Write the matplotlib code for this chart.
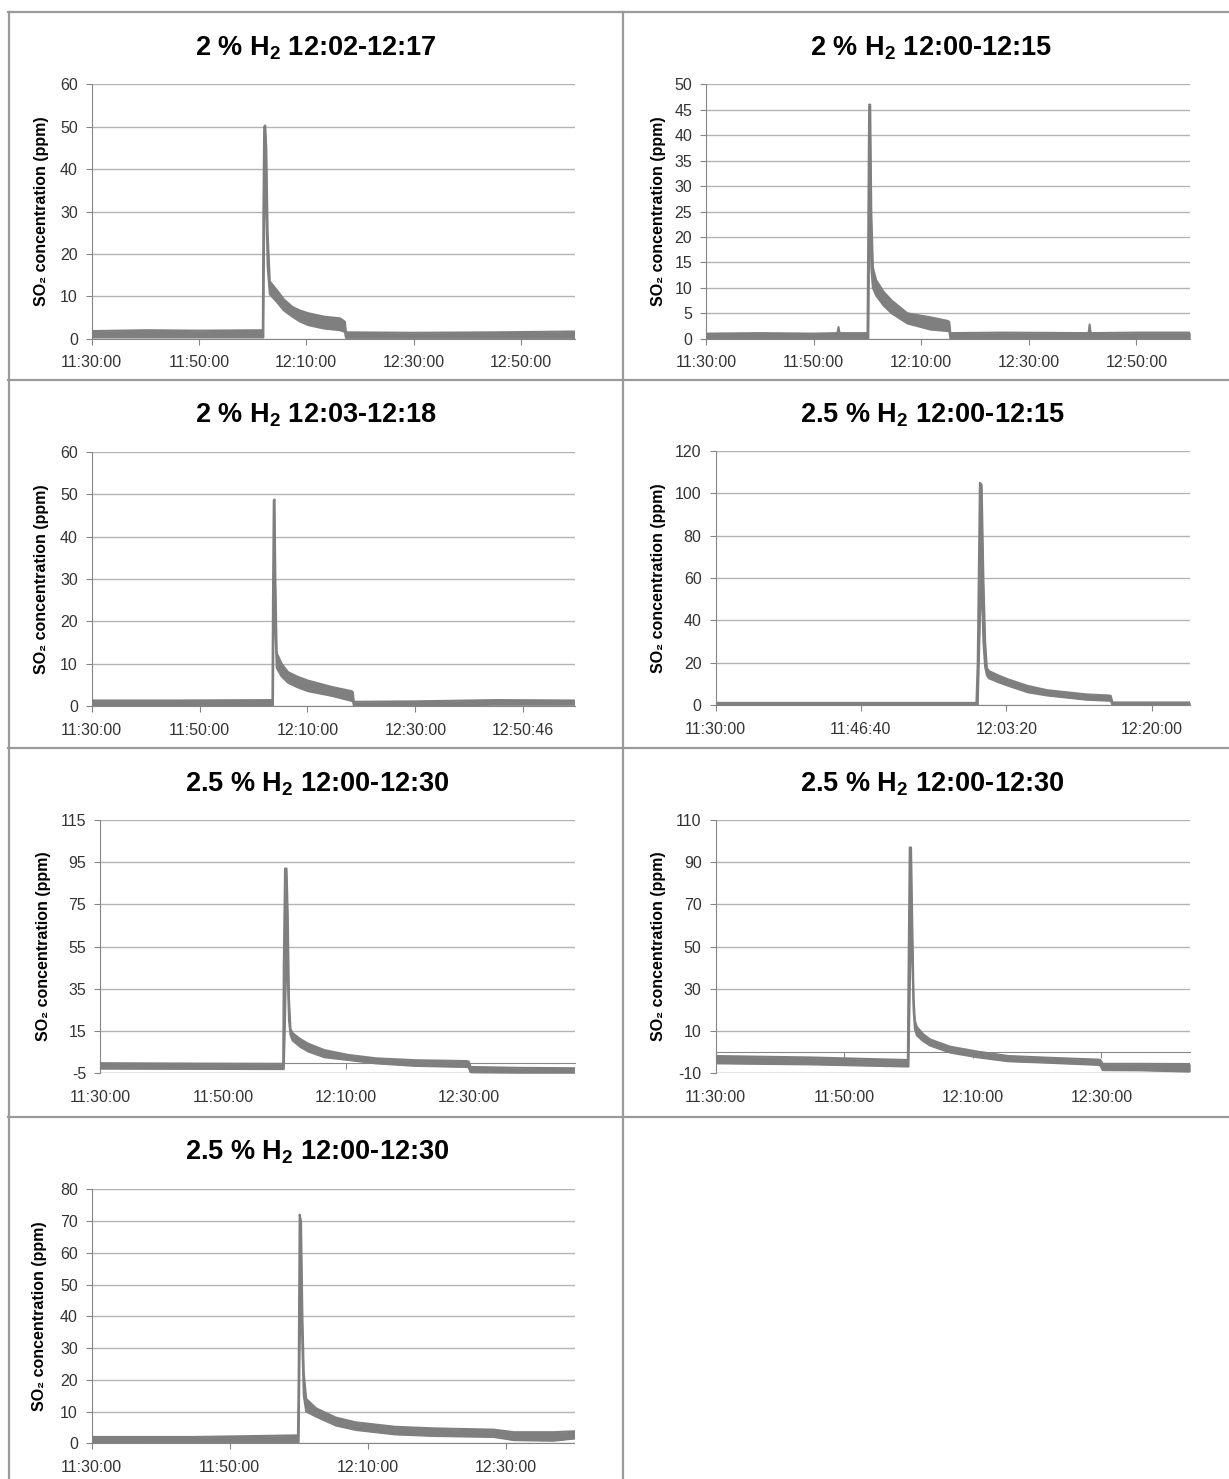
import matplotlib
matplotlib.use('Agg')
import matplotlib.pyplot as plt
from matplotlib.lines import Line2D

plt.rcParams['font.family'] = ['Liberation Sans', 'DejaVu Sans']
plt.rcParams['mathtext.fontset'] = 'custom'
plt.rcParams['mathtext.rm'] = 'Liberation Sans:bold'
plt.rcParams['mathtext.bf'] = 'Liberation Sans:bold'
plt.rcParams['axes.unicode_minus'] = False

# time in minutes after 11:30:00, lower / upper edge of the noisy SO2 trace (ppm)
t1 = [0, 10, 20, 31.9, 32.0, 32.15, 32.35, 32.55, 32.8, 33.2, 34.5, 35.8, 37.4, 38.9, 40.4, 43.3, 46.3, 47.2, 47.4, 60, 75, 90]
lo1 = [0.3, 0.3, 0.3, 0.3, 0.3, 28, 45, 30, 17, 10.5, 8.7, 6.7, 5.2, 4.0, 3.2, 2.4, 2.0, 1.6, 0.2, 0.2, 0.2, 0.2]
hi1 = [1.8, 2.0, 1.9, 2.0, 29, 50, 50.3, 45, 25, 13.5, 11.5, 9.3, 7.5, 6.6, 6.0, 5.2, 4.8, 4.0, 1.5, 1.4, 1.5, 1.7]

t2 = [0, 10, 20, 24.4, 24.6, 24.8, 30.0, 30.15, 30.3, 30.5, 30.7, 31.0, 31.6, 33.0, 34.5, 37.4, 41.7, 44.9, 45.2, 45.4, 55, 71.1, 71.3, 71.5, 80, 90]
lo2 = [0.1, 0.1, 0.1, 0.1, 0.1, 0.1, 0.1, 0.1, 20, 28, 14, 10, 8.5, 6.5, 5.0, 3.0, 1.8, 1.5, 1.5, 0.1, 0.1, 0.1, 0.1, 0.1, 0.1, 0.1]
hi2 = [1.0, 1.1, 1.0, 1.1, 2.3, 1.1, 1.1, 24, 46, 46, 25, 14, 11.5, 9.2, 7.5, 5.0, 4.2, 3.5, 3.3, 1.1, 1.2, 1.1, 2.8, 1.1, 1.2, 1.2]

t3 = [0, 15, 33.5, 33.6, 33.75, 33.9, 34.05, 34.3, 35.2, 36.4, 38.2, 40.1, 44.5, 48.2, 48.4, 48.6, 60, 75, 89.5]
lo3 = [0.2, 0.2, 0.2, 0.2, 30, 40, 18, 9.0, 7.0, 5.5, 4.4, 3.5, 2.4, 1.2, 1.2, 0.1, 0.1, 0.3, 0.3]
hi3 = [1.3, 1.3, 1.4, 25, 48.5, 48.8, 30, 12.5, 10.0, 8.0, 6.9, 6.0, 4.5, 3.5, 3.3, 1.0, 1.1, 1.4, 1.3]

t4 = [0, 15, 29.9, 30.05, 30.3, 30.5, 30.7, 30.9, 31.1, 31.35, 32.4, 33.6, 35.8, 38.0, 42.5, 45.1, 45.3, 45.5, 50, 54.4]
lo4 = [0.0, 0.0, 0.0, 0.0, 40, 60, 30, 18, 14, 12.6, 10.8, 9.0, 6.0, 4.5, 2.5, 2.0, 2.0, 0.0, 0.0, 0.0]
hi4 = [1.0, 1.0, 1.0, 20, 105, 104, 60, 30, 17.5, 16, 14, 12, 9.0, 7.0, 5.0, 4.5, 4.3, 1.2, 1.2, 1.2]

t5 = [0, 15, 29.8, 29.9, 30.1, 30.35, 30.55, 30.75, 31.0, 31.35, 32.6, 33.9, 36.5, 40.4, 44.9, 51.3, 59.7, 60.0, 60.3, 68, 77.2]
lo5 = [-2.8, -2.9, -3.0, -3.0, 20, 60, 40, 20, 13, 10.5, 7.5, 5.3, 2.6, 1.3, -0.3, -1.5, -2.0, -2.3, -4.8, -5.0, -5.0]
hi5 = [-0.2, -0.4, -0.5, 46, 92, 92, 70, 30, 16, 14, 11.2, 9.0, 6.0, 3.7, 2.1, 1.2, 0.8, 0.5, -2.0, -2.4, -2.6]

t6 = [0, 15, 29.9, 30.0, 30.2, 30.4, 30.6, 30.8, 31.0, 31.3, 32.3, 33.4, 36.5, 40.7, 45.5, 51.6, 59.4, 59.8, 60.2, 66, 73.8]
lo6 = [-5.3, -5.8, -6.8, -6.8, 30, 60, 45, 20, 11, 8.0, 5.2, 3.1, -0.2, -2.4, -4.3, -5.0, -6.0, -6.2, -8.5, -8.6, -9.2]
hi6 = [-1.8, -2.5, -3.7, 35, 97, 97, 60, 25, 15, 12, 8.5, 6.0, 2.6, 0.3, -1.8, -2.6, -3.5, -3.6, -5.5, -5.5, -5.6]

t7 = [0, 15, 29.9, 30.0, 30.15, 30.35, 30.55, 30.75, 31.1, 32.55, 35.4, 38.3, 44, 49.7, 58.3, 61.2, 66.9, 70]
lo7 = [0.2, 0.3, 0.4, 0.4, 30, 50, 30, 15, 10, 8.4, 5.6, 4.2, 2.8, 2.3, 2.0, 1.0, 0.8, 1.5]
hi7 = [2.0, 2.0, 2.5, 20, 72, 70, 40, 22, 14, 11, 8.1, 6.6, 5.2, 4.7, 4.3, 3.5, 3.5, 3.8]

titles = [r'2 % H$_\mathbf{2}$ 12:02-12:17', r'2 % H$_\mathbf{2}$ 12:00-12:15',
          r'2 % H$_\mathbf{2}$ 12:03-12:18', r'2.5 % H$_\mathbf{2}$ 12:00-12:15',
          r'2.5 % H$_\mathbf{2}$ 12:00-12:30', r'2.5 % H$_\mathbf{2}$ 12:00-12:30',
          r'2.5 % H$_\mathbf{2}$ 12:00-12:30']

xlabels_a = ['11:30:00', '11:50:00', '12:10:00', '12:30:00', '12:50:00']
xlabels_b = ['11:30:00', '11:50:00', '12:10:00', '12:30:00', '12:50:46']
xlabels_c = ['11:30:00', '11:46:40', '12:03:20', '12:20:00']
xlabels_d = ['11:30:00', '11:50:00', '12:10:00', '12:30:00']
xticks_a = [0, 20, 40, 60, 80]
xticks_c = [0, 1000 / 60, 2000 / 60, 3000 / 60]
xticks_d = [0, 20, 40, 60]

xmax = [90, 90, 89.5, 54.4, 77.2, 73.8, 70]
yticks = [range(0, 61, 10), range(0, 51, 5), range(0, 61, 10), range(0, 121, 20),
          range(-5, 116, 20), range(-10, 111, 20), range(0, 81, 10)]

series = [(t1, lo1, hi1), (t2, lo2, hi2), (t3, lo3, hi3), (t4, lo4, hi4),
          (t5, lo5, hi5), (t6, lo6, hi6), (t7, lo7, hi7)]
xt = [(xticks_a, xlabels_a), (xticks_a, xlabels_a), (xticks_a, xlabels_b), (xticks_c, xlabels_c),
      (xticks_d, xlabels_d), (xticks_d, xlabels_d), (xticks_d, xlabels_d)]

W, H = 1229, 1479
fig = plt.figure(figsize=(W / 100, H / 100), dpi=100)

# pixel layout: plot left, right, top, bottom, title centre x, title baseline, ylabel x
layout = [
    (91.7, 574.5, 84.3, 338.7, 316, 55, 42),
    (706.2, 1190.2, 84.3, 338.7, 931, 55, 659),
    (91.7, 574.5, 452, 706, 316, 422.7, 42),
    (715.5, 1190.2, 451, 705, 932, 422.7, 659),
    (100, 574.5, 820, 1073.3, 317, 791.7, 43.5),
    (715.5, 1190.2, 820, 1073.3, 932, 791.7, 659),
    (91.7, 574.5, 1189.3, 1443.3, 317, 1160, 40),
]

line_c = '#7f7f7f'
axis_c = '#868686'
grid_c = '#b4b4b4'
text_c = '#333333'

for i, (l, r, t, b, tx, ty, yx) in enumerate(layout):
    ax = fig.add_axes([l / W, 1 - b / H, (r - l) / W, (b - t) / H])
    tt, lo, hi = series[i]
    ax.fill_between(tt, lo, hi, color=line_c, lw=0, zorder=3)
    ax.plot(tt, lo, color=line_c, lw=1.5, zorder=3)
    ax.plot(tt, hi, color=line_c, lw=1.5, zorder=3)

    yt = list(yticks[i])
    ax.set_ylim(yt[0], yt[-1])
    ax.set_xlim(0, xmax[i])
    ax.set_yticks(yt)
    ax.set_xticks(xt[i][0])
    ax.set_xticklabels(xt[i][1])
    ax.grid(axis='y', color=grid_c, lw=1.0)
    ax.grid(axis='x', visible=False)
    ax.set_axisbelow(True)

    for s in ['top', 'right']:
        ax.spines[s].set_visible(False)
    ax.spines['left'].set_color(axis_c)
    ax.spines['bottom'].set_color(axis_c)

    pad_x = 8
    if yt[0] < 0:
        # horizontal axis crosses at zero, labels stay at the bottom
        ax.spines['bottom'].set_position(('data', 0))
        ax.axhline(yt[0], color=grid_c, lw=1.0, zorder=1)
        pad_x += (0 - yt[0]) / (yt[-1] - yt[0]) * (b - t) * 0.72
    ax.tick_params(axis='x', length=4, color=axis_c, labelsize=11.5, labelcolor=text_c, pad=pad_x)
    ax.tick_params(axis='y', length=4, color=axis_c, labelsize=11.5, labelcolor=text_c, pad=6)

    fig.text(tx / W, 1 - ty / H, titles[i], ha='center', va='baseline',
             fontsize=19.5, fontweight='bold', color='black')
    fig.text(yx / W, 1 - (t + b) / 2 / H, 'SO₂ concentration (ppm)', rotation=90,
             ha='center', va='center', fontsize=11.5, fontweight='bold', color='black')

# cell borders
border_c = '#9a9a9a'
def hline(y, x0, x1):
    fig.add_artist(Line2D([x0 / W, x1 / W], [1 - y / H, 1 - y / H], color=border_c, lw=1.6))
def vline(x, y0, y1):
    fig.add_artist(Line2D([x / W, x / W], [1 - y0 / H, 1 - y1 / H], color=border_c, lw=1.6))

hline(12, 8, 1229)
hline(379.5, 8, 1229)
hline(748, 8, 1229)
hline(1117, 8, 1229)
vline(8.5, 12, 1479)
vline(623, 12, 1479)

fig.savefig('out.png', dpi=100, facecolor='white')
